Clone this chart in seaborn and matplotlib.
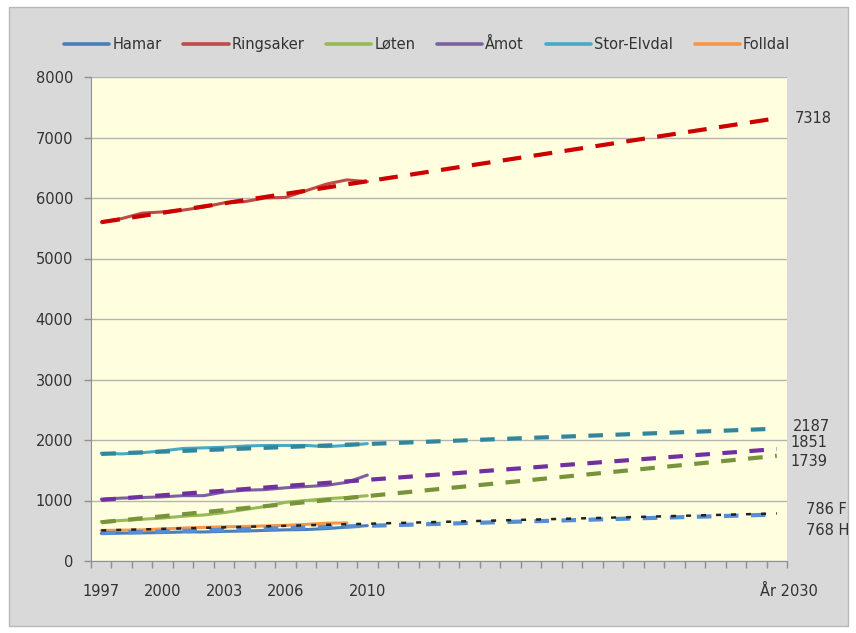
import numpy as np
import pandas as pd
import seaborn as sns
from matplotlib import pyplot as plt
from matplotlib.patches import Rectangle
from matplotlib.transforms import ScaledTranslation

sns.set_style("white")
plt.rcParams['font.family'] = ['DejaVu Sans']

# Observerte tall 1997-2010
years = list(range(1997, 2011))
hamar = [455, 460, 465, 470, 480, 480, 490, 495, 505, 515, 520, 535, 560, 585]
ringsaker = [5600, 5660, 5750, 5770, 5800, 5850, 5920, 5940, 6000, 6010, 6120, 6230, 6300, 6270]
loten = [650, 670, 690, 710, 740, 760, 800, 850, 900, 970, 1000, 1030, 1050, 1080]
amot = [1020, 1040, 1050, 1060, 1080, 1080, 1140, 1170, 1180, 1210, 1230, 1250, 1300, 1420]
stor_elvdal = [1780, 1770, 1790, 1820, 1860, 1870, 1880, 1900, 1910, 1910, 1910, 1890, 1910, 1940]
years_folldal = list(range(1997, 2010))
folldal = [505, 510, 515, 530, 545, 555, 565, 570, 580, 590, 605, 625, 630]

# Trendlinjer 1997 -> 2030
trend_years = [1997, 2030]
trend_hamar = [460, 768]
trend_ringsaker = [5600, 7318]
trend_loten = [640, 1739]
trend_amot = [1010, 1851]
trend_stor_elvdal = [1770, 2187]
trend_folldal = [505, 786]

names = ['Hamar', 'Ringsaker', 'Løten', 'Åmot', 'Stor-Elvdal', 'Folldal']
end_labels = ['768 H', '7318', '1739', '1851', '2187', '786 F']

fig = plt.figure(figsize=(8.56, 6.33), dpi=100)
fig.patch.set_facecolor('white')
fig.patches.append(Rectangle((9 / 856, 7 / 633), 839 / 856, 619 / 633,
                             transform=fig.transFigure, facecolor='#d9d9d9',
                             edgecolor='#b8b8b8', lw=1, zorder=-10))

ax = fig.add_axes([91 / 856, 72 / 633, 696 / 856, 484 / 633])
ax.set_facecolor('#ffffe0')

obs = [(years, hamar, '#4a7ebb'), (years, ringsaker, '#be4b48'), (years, loten, '#98b954'),
       (years, amot, '#7d60a0'), (years, stor_elvdal, '#46aac5'), (years_folldal, folldal, '#f79646')]
for (x, y, c), n in zip(obs, names):
    sns.lineplot(x=x, y=y, ax=ax, color=c, lw=2.2, label=n, zorder=3)

trends = [(trend_hamar, '#558ed5', (0, (3.5, 3)), 3),
          (trend_ringsaker, '#cc0000', (0, (4.5, 3)), 3),
          (trend_loten, '#77933c', (0, (3.5, 3)), 3),
          (trend_amot, '#7030a0', (0, (3.5, 3)), 3),
          (trend_stor_elvdal, '#31859c', (0, (3.5, 3)), 3),
          (trend_folldal, '#222222', (0, (2, 4)), 1.8)]
for y, c, ls, w in trends:
    sns.lineplot(x=trend_years, y=y, ax=ax, color=c, lw=w, linestyle=ls,
                 label='_nolegend_', zorder=4)

handles, labels = ax.get_legend_handles_labels()
ax.get_legend().remove()
leg = fig.legend(handles, labels, loc='center', bbox_to_anchor=(0.499, 0.93), ncol=6,
                 frameon=False, handlelength=3.1, handletextpad=0.2, columnspacing=1.5,
                 fontsize=10.5, labelcolor='#333333')
for h in leg.get_lines():
    h.set_linewidth(2.6)

# Etiketter til høyre
label_pos = {'7318': (795, 7310), '2187': (793, 2215), '1851': (790, 1965),
             '1739': (790, 1640), '786 F': (806, 845), '768 H': (806, 510)}
for lab in end_labels:
    px, yv = label_pos[lab]
    ax.annotate(lab, xy=(px / 856, yv), xycoords=('figure fraction', 'data'),
                va='center', ha='left', fontsize=10.5, color='#333333', annotation_clip=False)

ax.set_xlim(1996.5, 2030.5)
ax.set_ylim(0, 8000)
ax.set_yticks(range(0, 8001, 1000))
ax.set_xticks([1997, 2000, 2003, 2006, 2010, 2030])
ax.set_xticklabels(['1997', '2000', '2003', '2006', '2010', 'År 2030'])
ax.set_xticks(np.arange(1996.5, 2031, 1), minor=True)
ax.tick_params(axis='x', which='major', bottom=False, pad=13, labelsize=10.5, labelcolor='#333333')
ax.tick_params(axis='x', which='minor', bottom=True, length=5, width=1, color='#909090', direction='out')
ax.tick_params(axis='y', left=True, length=5, width=1, color='#909090', pad=8,
               labelsize=10.5, labelcolor='#333333')
last = ax.get_xticklabels()[-1]
last.set_transform(last.get_transform() + ScaledTranslation(9 / 72, 0, fig.dpi_scale_trans))

ax.grid(axis='y', color='#b4b4b4', lw=1)
for s in ['top', 'right']:
    ax.spines[s].set_visible(False)
for s in ['left', 'bottom']:
    ax.spines[s].set_color('#909090')
ax.set_xlabel('')
ax.set_ylabel('')

fig.savefig('out.png', dpi=100)
